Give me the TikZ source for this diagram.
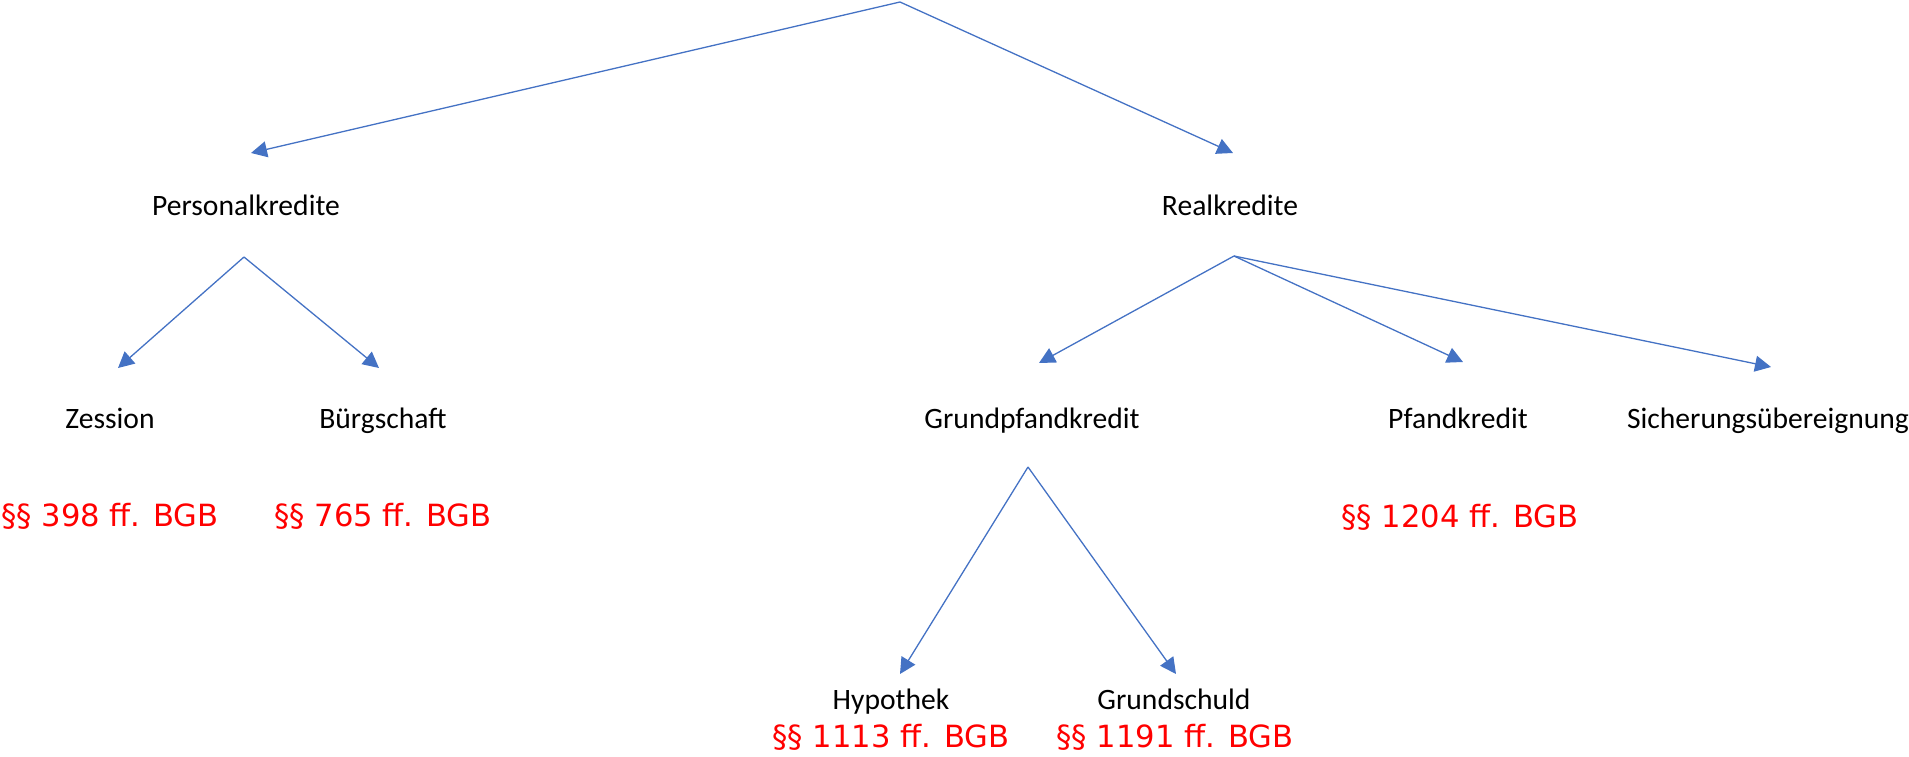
\documentclass[tikz,border=0pt]{standalone}
\usepackage{fontspec}
\setmainfont{Carlito}
\newfontfamily\lawfont{DejaVu Sans}
\usetikzlibrary{arrows.meta}
\definecolor{linkblue}{HTML}{4472C4}
\definecolor{lawred}{HTML}{FF0000}
\begin{document}
\begin{tikzpicture}[x=1pt,y=-1pt,
  term/.style={inner sep=0pt,anchor=base,font=\fontsize{29.6}{35}\selectfont},
  law/.style={inner sep=0pt,anchor=base,text=lawred,font=\lawfont\fontsize{30.6}{36}\selectfont},
  link/.style={draw=linkblue,line width=1.3pt,-{Triangle[length=16pt,width=16pt]}}]
\useasboundingbox (0,0) rectangle (1909,757);

% branch points
\coordinate (root)  at (900,2);
\coordinate (pbr)   at (244,257);
\coordinate (rbr)   at (1234,256);
\coordinate (gbr)   at (1028,467);

% arrow ends
\coordinate (tP)  at (251,153);
\coordinate (tR)  at (1233,153);
\coordinate (tZ)  at (118,368);
\coordinate (tB)  at (379,368);
\coordinate (tG)  at (1039,363);
\coordinate (tPf) at (1463,362);
\coordinate (tS)  at (1771,367);
\coordinate (tH)  at (900,674);
\coordinate (tGs) at (1176,674);

% terms
\node[term] (pers) at (246,215) {Personalkredite};
\node[term] (real) at (1230,215) {Realkredite};
\node[term] (zess) at (110,428) {Zession};
\node[term] (buer) at (383,428) {Bürgschaft};
\node[term] (gpk)  at (1032,428) {Grundpfandkredit};
\node[term] (pfk)  at (1458,428) {Pfandkredit};
\node[term] (sue)  at (1768,428) {Sicherungsübereignung};
\node[term] (hyp)  at (891,709) {Hypothek};
\node[term] (gs)   at (1174,709) {Grundschuld};

% statutory references
\node[law] (lz)  at (110,526) {§§ 398 ff. BGB};
\node[law] (lb)  at (383,526) {§§ 765 ff. BGB};
\node[law] (lpf) at (1460,527) {§§ 1204 ff. BGB};
\node[law] (lh)  at (891,747) {§§ 1113 ff. BGB};
\node[law] (lgs) at (1175,747) {§§ 1191 ff. BGB};

% connectors
\draw[link] (root) -- (tP);
\draw[link] (root) -- (tR);
\draw[link] (pbr) -- (tZ);
\draw[link] (pbr) -- (tB);
\draw[link] (rbr) -- (tG);
\draw[link] (rbr) -- (tPf);
\draw[link] (rbr) -- (tS);
\draw[link] (gbr) -- (tH);
\draw[link] (gbr) -- (tGs);
\end{tikzpicture}
\end{document}
